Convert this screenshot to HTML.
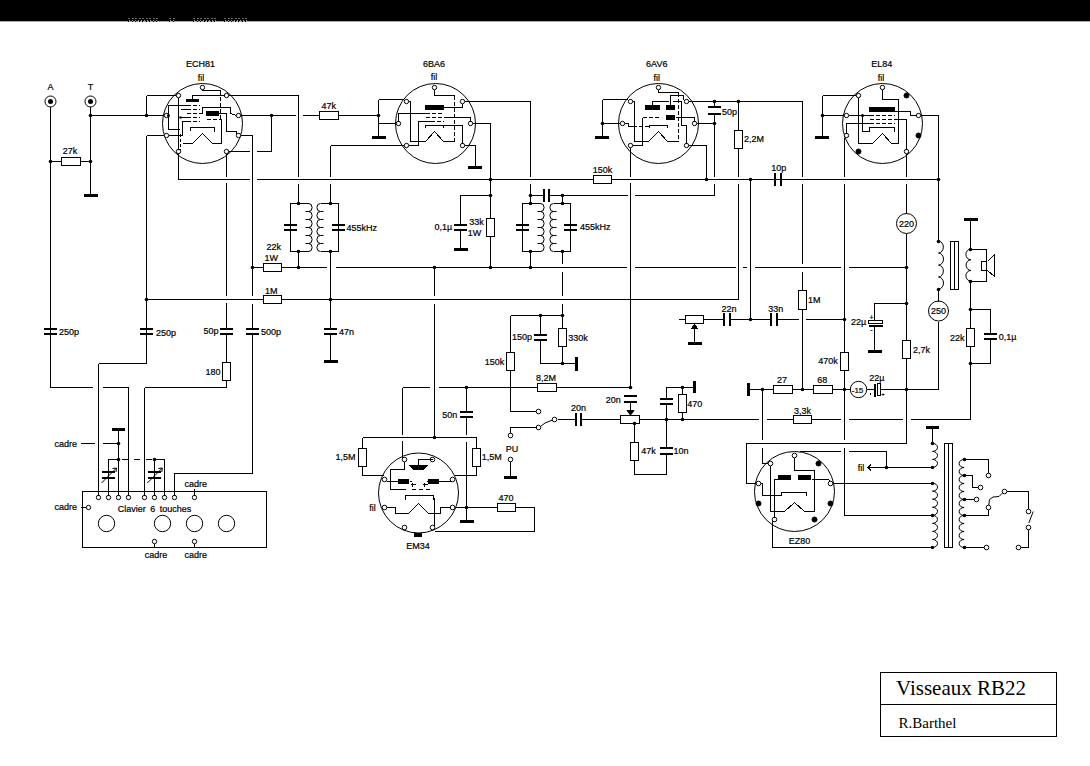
<!DOCTYPE html>
<html><head><meta charset="utf-8"><style>
html,body{margin:0;padding:0;background:#fff;}
body{width:1090px;height:766px;overflow:hidden;position:relative;}
svg{position:absolute;left:0;top:0;}
text{font-family:"Liberation Sans",sans-serif;fill:#000;stroke:#000;stroke-width:0.2px;word-spacing:2px;}
.serif{font-family:"Liberation Serif",serif;stroke:none;word-spacing:0;}
</style></head><body>
<svg width="1090" height="766" viewBox="0 0 1090 766">
<g stroke="#000" stroke-width="1" fill="none" shape-rendering="crispEdges">
<rect x="0" y="0" width="1090" height="21" fill="#000" stroke="none"/>
<rect x="0" y="21" width="1090" height="1" fill="#aaa" stroke="none"/>
<text x="50.5" y="90.4" text-anchor="middle" font-size="9">A</text>
<text x="90.5" y="90.4" text-anchor="middle" font-size="9">T</text>
<circle cx="50.5" cy="101.5" r="5.5" fill="none" shape-rendering="auto"/>
<circle cx="50.5" cy="101.5" r="2.5" fill="#000" stroke="none" shape-rendering="auto"/>
<circle cx="90.5" cy="101.5" r="5.5" fill="none" shape-rendering="auto"/>
<circle cx="90.5" cy="101.5" r="2.5" fill="#000" stroke="none" shape-rendering="auto"/>
<line x1="50.5" y1="106.5" x2="50.5" y2="387.5" stroke-width="1"/>
<line x1="50.5" y1="387.5" x2="92.5" y2="387.5" stroke-width="1"/>
<line x1="102.5" y1="387.5" x2="128.5" y2="387.5" stroke-width="1"/>
<line x1="128.5" y1="387.5" x2="128.5" y2="497.5" stroke-width="1"/>
<line x1="50.5" y1="161.5" x2="61.5" y2="161.5" stroke-width="1"/>
<rect x="61.5" y="157.5" width="19" height="8" fill="#fff"/>
<line x1="80.5" y1="161.5" x2="90.5" y2="161.5" stroke-width="1"/>
<text x="70" y="154.4" text-anchor="middle" font-size="9">27k</text>
<circle cx="50.5" cy="161.5" r="1.8" fill="#000" stroke="none" shape-rendering="auto"/>
<circle cx="90.5" cy="161.5" r="1.8" fill="#000" stroke="none" shape-rendering="auto"/>
<line x1="90.5" y1="106.5" x2="90.5" y2="195.5" stroke-width="1"/>
<rect x="84" y="194" width="14" height="3" fill="#000" stroke="none"/>
<circle cx="90.5" cy="115.5" r="1.8" fill="#000" stroke="none" shape-rendering="auto"/>
<line x1="90.5" y1="115.5" x2="166.5" y2="115.5" stroke-width="1"/>
<circle cx="146.5" cy="115.5" r="1.8" fill="#000" stroke="none" shape-rendering="auto"/>
<line x1="146.5" y1="95.5" x2="146.5" y2="115.5" stroke-width="1"/>
<line x1="146.5" y1="95.5" x2="178.5" y2="95.5" stroke-width="1"/>
<line x1="146.5" y1="135.5" x2="166.5" y2="135.5" stroke-width="1"/>
<line x1="146.5" y1="135.5" x2="146.5" y2="363.5" stroke-width="1"/>
<circle cx="146.5" cy="299.5" r="1.8" fill="#000" stroke="none" shape-rendering="auto"/>
<line x1="44" y1="329" x2="57" y2="329" stroke-width="2"/>
<line x1="44" y1="334" x2="57" y2="334" stroke-width="2"/>
<text x="59" y="334.9" text-anchor="start" font-size="9">250p</text>
<line x1="140" y1="329" x2="153" y2="329" stroke-width="2"/>
<line x1="140" y1="334" x2="153" y2="334" stroke-width="2"/>
<text x="156" y="336.09999999999997" text-anchor="start" font-size="9">250p</text>
<line x1="146.5" y1="363.5" x2="98.5" y2="363.5" stroke-width="1"/>
<line x1="98.5" y1="363.5" x2="98.5" y2="497.5" stroke-width="1"/>
<text x="200.5" y="67.4" text-anchor="middle" font-size="9">ECH81</text>
<text x="201" y="81.4" text-anchor="middle" font-size="9">fil</text>
<circle cx="202.5" cy="123.5" r="40" fill="none" shape-rendering="auto"/>
<line x1="238.5" y1="115.5" x2="295.5" y2="115.5" stroke-width="1"/>
<line x1="302.5" y1="115.5" x2="319.5" y2="115.5" stroke-width="1"/>
<circle cx="271.5" cy="115.5" r="1.8" fill="#000" stroke="none" shape-rendering="auto"/>
<line x1="271.5" y1="115.5" x2="271.5" y2="151.5" stroke-width="1"/>
<line x1="226.5" y1="151.5" x2="249.5" y2="151.5" stroke-width="1"/>
<line x1="256.5" y1="151.5" x2="271.5" y2="151.5" stroke-width="1"/>
<line x1="238.5" y1="135.5" x2="252.5" y2="135.5" stroke-width="1"/>
<line x1="252.5" y1="135.5" x2="252.5" y2="295.5" stroke-width="1"/>
<line x1="252.5" y1="303.5" x2="252.5" y2="329.5" stroke-width="1"/>
<circle cx="252.5" cy="267.5" r="1.8" fill="#000" stroke="none" shape-rendering="auto"/>
<line x1="178.5" y1="151.5" x2="178.5" y2="179.5" stroke-width="1"/>
<line x1="178.5" y1="179.5" x2="249.5" y2="179.5" stroke-width="1"/>
<line x1="256.5" y1="179.5" x2="938.5" y2="179.5" stroke-width="1"/>
<line x1="226.5" y1="151.5" x2="226.5" y2="176.5" stroke-width="1"/>
<line x1="226.5" y1="182.5" x2="226.5" y2="295.5" stroke-width="1"/>
<line x1="226.5" y1="302.5" x2="226.5" y2="329.5" stroke-width="1"/>
<line x1="226.5" y1="95.5" x2="298.5" y2="95.5" stroke-width="1"/>
<line x1="298.5" y1="95.5" x2="298.5" y2="176.5" stroke-width="1"/>
<line x1="298.5" y1="183.5" x2="298.5" y2="203.5" stroke-width="1"/>
<line x1="220" y1="329" x2="233" y2="329" stroke-width="2"/>
<line x1="220" y1="334" x2="233" y2="334" stroke-width="2"/>
<text x="211" y="334.4" text-anchor="middle" font-size="9">50p</text>
<line x1="246" y1="329" x2="259" y2="329" stroke-width="2"/>
<line x1="246" y1="334" x2="259" y2="334" stroke-width="2"/>
<text x="271" y="334.9" text-anchor="middle" font-size="9">500p</text>
<line x1="226.5" y1="334.5" x2="226.5" y2="362.5" stroke-width="1"/>
<rect x="222.5" y="362.5" width="8" height="18" fill="#fff"/>
<line x1="226.5" y1="380.5" x2="226.5" y2="387.5" stroke-width="1"/>
<line x1="226.5" y1="387.5" x2="144.5" y2="387.5" stroke-width="1"/>
<line x1="144.5" y1="387.5" x2="144.5" y2="497.5" stroke-width="1"/>
<text x="213" y="375.09999999999997" text-anchor="middle" font-size="9">180</text>
<line x1="252.5" y1="334.5" x2="252.5" y2="473.5" stroke-width="1"/>
<line x1="252.5" y1="473.5" x2="174.5" y2="473.5" stroke-width="1"/>
<line x1="174.5" y1="473.5" x2="174.5" y2="497.5" stroke-width="1"/>
<line x1="146.5" y1="299.5" x2="263.5" y2="299.5" stroke-width="1"/>
<rect x="263.5" y="295.5" width="18" height="8" fill="#fff"/>
<text x="271.2" y="293.7" text-anchor="middle" font-size="9">1M</text>
<line x1="281.5" y1="299.5" x2="738.5" y2="299.5" stroke-width="1"/>
<line x1="252.5" y1="267.5" x2="263.5" y2="267.5" stroke-width="1"/>
<rect x="263.5" y="263.5" width="18" height="8" fill="#fff"/>
<text x="273.7" y="250.4" text-anchor="middle" font-size="9">22k</text>
<text x="271.2" y="261.4" text-anchor="middle" font-size="9">1W</text>
<line x1="281.5" y1="267.5" x2="326.5" y2="267.5" stroke-width="1"/>
<line x1="335.5" y1="267.5" x2="626.5" y2="267.5" stroke-width="1"/>
<line x1="634.5" y1="267.5" x2="735.5" y2="267.5" stroke-width="1"/>
<line x1="742.5" y1="267.5" x2="746.5" y2="267.5" stroke-width="1"/>
<line x1="754.5" y1="267.5" x2="840.5" y2="267.5" stroke-width="1"/>
<line x1="848.5" y1="267.5" x2="906.5" y2="267.5" stroke-width="1"/>
<circle cx="298.5" cy="267.5" r="1.8" fill="#000" stroke="none" shape-rendering="auto"/>
<circle cx="434.5" cy="267.5" r="1.8" fill="#000" stroke="none" shape-rendering="auto"/>
<circle cx="490.5" cy="267.5" r="1.8" fill="#000" stroke="none" shape-rendering="auto"/>
<circle cx="530.5" cy="267.5" r="1.8" fill="#000" stroke="none" shape-rendering="auto"/>
<circle cx="906.5" cy="267.5" r="1.8" fill="#000" stroke="none" shape-rendering="auto"/>
<line x1="330.5" y1="145.5" x2="406.5" y2="145.5" stroke-width="1"/>
<line x1="330.5" y1="145.5" x2="330.5" y2="176.5" stroke-width="1"/>
<line x1="330.5" y1="183.5" x2="330.5" y2="203.5" stroke-width="1"/>
<circle cx="298.5" cy="203.5" r="1.8" fill="#000" stroke="none" shape-rendering="auto"/>
<circle cx="330.5" cy="203.5" r="1.8" fill="#000" stroke="none" shape-rendering="auto"/>
<circle cx="298.5" cy="251.5" r="1.8" fill="#000" stroke="none" shape-rendering="auto"/>
<circle cx="330.5" cy="251.5" r="1.8" fill="#000" stroke="none" shape-rendering="auto"/>
<polyline points="308.5,203.5 290.5,203.5 290.5,251.5 308.5,251.5"/>
<polyline points="320.5,203.5 338.5,203.5 338.5,251.5 320.5,251.5"/>
<line x1="284" y1="225" x2="297" y2="225" stroke-width="2"/>
<line x1="284" y1="230" x2="297" y2="230" stroke-width="2"/>
<line x1="332" y1="225" x2="345" y2="225" stroke-width="2"/>
<line x1="332" y1="230" x2="345" y2="230" stroke-width="2"/>
<path d="M308.5,203.5 A3.6,4.0 0 0 1 308.5,211.50 A3.6,4.0 0 0 1 308.5,219.50 A3.6,4.0 0 0 1 308.5,227.50 A3.6,4.0 0 0 1 308.5,235.50 A3.6,4.0 0 0 1 308.5,243.50 A3.6,4.0 0 0 1 308.5,251.50 M308.5,211.50 h-3 M308.5,219.50 h-3 M308.5,227.50 h-3 M308.5,235.50 h-3 M308.5,243.50 h-3" fill="none" shape-rendering="auto"/>
<path d="M320.5,203.5 A3.6,4.0 0 0 0 320.5,211.50 A3.6,4.0 0 0 0 320.5,219.50 A3.6,4.0 0 0 0 320.5,227.50 A3.6,4.0 0 0 0 320.5,235.50 A3.6,4.0 0 0 0 320.5,243.50 A3.6,4.0 0 0 0 320.5,251.50 M320.5,211.50 h3 M320.5,219.50 h3 M320.5,227.50 h3 M320.5,235.50 h3 M320.5,243.50 h3" fill="none" shape-rendering="auto"/>
<text x="346.5" y="230.8" text-anchor="start" font-size="9">455kHz</text>
<line x1="298.5" y1="251.5" x2="298.5" y2="267.5" stroke-width="1"/>
<line x1="330.5" y1="251.5" x2="330.5" y2="329.5" stroke-width="1"/>
<circle cx="330.5" cy="299.5" r="1.8" fill="#000" stroke="none" shape-rendering="auto"/>
<line x1="324" y1="329" x2="337" y2="329" stroke-width="2"/>
<line x1="324" y1="334" x2="337" y2="334" stroke-width="2"/>
<line x1="330.5" y1="334.5" x2="330.5" y2="361.5" stroke-width="1"/>
<rect x="324" y="360" width="14" height="3" fill="#000" stroke="none"/>
<text x="339" y="334.9" text-anchor="start" font-size="9">47n</text>
<text x="434" y="67.10000000000001" text-anchor="middle" font-size="9">6BA6</text>
<text x="434" y="80.4" text-anchor="middle" font-size="9">fil</text>
<circle cx="435.5" cy="123.5" r="40" fill="none" shape-rendering="auto"/>
<rect x="319.5" y="111.5" width="19" height="8" fill="#fff"/>
<text x="328.7" y="108.9" text-anchor="middle" font-size="9">47k</text>
<line x1="338.5" y1="115.5" x2="378.5" y2="115.5" stroke-width="1"/>
<circle cx="378.5" cy="115.5" r="1.8" fill="#000" stroke="none" shape-rendering="auto"/>
<line x1="378.5" y1="99.5" x2="378.5" y2="137.5" stroke-width="1"/>
<rect x="372" y="136" width="14" height="3" fill="#000" stroke="none"/>
<line x1="378.5" y1="99.5" x2="403.5" y2="99.5" stroke-width="1"/>
<line x1="378.5" y1="123.5" x2="396.5" y2="123.5" stroke-width="1"/>
<line x1="464.5" y1="101.5" x2="530.5" y2="101.5" stroke-width="1"/>
<line x1="530.5" y1="101.5" x2="530.5" y2="176.5" stroke-width="1"/>
<line x1="530.5" y1="183.5" x2="530.5" y2="203.5" stroke-width="1"/>
<line x1="472.5" y1="123.5" x2="490.5" y2="123.5" stroke-width="1"/>
<line x1="490.5" y1="123.5" x2="490.5" y2="218.5" stroke-width="1"/>
<circle cx="490.5" cy="179.5" r="1.8" fill="#000" stroke="none" shape-rendering="auto"/>
<circle cx="490.5" cy="195.5" r="1.8" fill="#000" stroke="none" shape-rendering="auto"/>
<rect x="486.5" y="218.5" width="8" height="18" fill="#fff"/>
<line x1="490.5" y1="236.5" x2="490.5" y2="267.5" stroke-width="1"/>
<polyline points="462.5,145.5 475.5,145.5 475.5,167.5"/>
<rect x="468" y="166" width="14" height="3" fill="#000" stroke="none"/>
<polyline points="490.5,195.5 460.5,195.5 460.5,225.5"/>
<line x1="454" y1="225" x2="467" y2="225" stroke-width="2"/>
<line x1="454" y1="230" x2="467" y2="230" stroke-width="2"/>
<line x1="460.5" y1="230.5" x2="460.5" y2="249.5" stroke-width="1"/>
<rect x="454" y="248" width="14" height="3" fill="#000" stroke="none"/>
<text x="443.4" y="229.6" text-anchor="middle" font-size="9">0,1&#181;</text>
<text x="476.6" y="224.6" text-anchor="middle" font-size="9">33k</text>
<text x="474.6" y="235.8" text-anchor="middle" font-size="9">1W</text>
<circle cx="530.5" cy="195.5" r="1.8" fill="#000" stroke="none" shape-rendering="auto"/>
<circle cx="530.5" cy="203.5" r="1.8" fill="#000" stroke="none" shape-rendering="auto"/>
<circle cx="530.5" cy="251.5" r="1.8" fill="#000" stroke="none" shape-rendering="auto"/>
<circle cx="562.5" cy="195.5" r="1.8" fill="#000" stroke="none" shape-rendering="auto"/>
<circle cx="562.5" cy="203.5" r="1.8" fill="#000" stroke="none" shape-rendering="auto"/>
<circle cx="562.5" cy="251.5" r="1.8" fill="#000" stroke="none" shape-rendering="auto"/>
<line x1="530.5" y1="195.5" x2="544.5" y2="195.5" stroke-width="1"/>
<line x1="544" y1="189" x2="544" y2="202" stroke-width="2"/>
<line x1="549" y1="189" x2="549" y2="202" stroke-width="2"/>
<line x1="549.5" y1="195.5" x2="627.5" y2="195.5" stroke-width="1"/>
<line x1="634.5" y1="195.5" x2="714.5" y2="195.5" stroke-width="1"/>
<polyline points="540.5,203.5 522.5,203.5 522.5,251.5 540.5,251.5"/>
<polyline points="553.5,203.5 570.5,203.5 570.5,251.5 553.5,251.5"/>
<path d="M540.5,203.5 A3.6,4.0 0 0 1 540.5,211.50 A3.6,4.0 0 0 1 540.5,219.50 A3.6,4.0 0 0 1 540.5,227.50 A3.6,4.0 0 0 1 540.5,235.50 A3.6,4.0 0 0 1 540.5,243.50 A3.6,4.0 0 0 1 540.5,251.50 M540.5,211.50 h-3 M540.5,219.50 h-3 M540.5,227.50 h-3 M540.5,235.50 h-3 M540.5,243.50 h-3" fill="none" shape-rendering="auto"/>
<path d="M553.5,203.5 A3.6,4.0 0 0 0 553.5,211.50 A3.6,4.0 0 0 0 553.5,219.50 A3.6,4.0 0 0 0 553.5,227.50 A3.6,4.0 0 0 0 553.5,235.50 A3.6,4.0 0 0 0 553.5,243.50 A3.6,4.0 0 0 0 553.5,251.50 M553.5,211.50 h3 M553.5,219.50 h3 M553.5,227.50 h3 M553.5,235.50 h3 M553.5,243.50 h3" fill="none" shape-rendering="auto"/>
<line x1="516" y1="225" x2="529" y2="225" stroke-width="2"/>
<line x1="516" y1="230" x2="529" y2="230" stroke-width="2"/>
<line x1="564" y1="225" x2="577" y2="225" stroke-width="2"/>
<line x1="564" y1="230" x2="577" y2="230" stroke-width="2"/>
<text x="580" y="230.4" text-anchor="start" font-size="9">455kHz</text>
<line x1="530.5" y1="251.5" x2="530.5" y2="267.5" stroke-width="1"/>
<line x1="562.5" y1="195.5" x2="562.5" y2="203.5" stroke-width="1"/>
<line x1="562.5" y1="251.5" x2="562.5" y2="263.5" stroke-width="1"/>
<line x1="562.5" y1="271.5" x2="562.5" y2="295.5" stroke-width="1"/>
<line x1="562.5" y1="303.5" x2="562.5" y2="328.5" stroke-width="1"/>
<rect x="558.5" y="328.5" width="8" height="18" fill="#fff"/>
<line x1="562.5" y1="346.5" x2="562.5" y2="363.5" stroke-width="1"/>
<circle cx="562.5" cy="315.5" r="1.8" fill="#000" stroke="none" shape-rendering="auto"/>
<circle cx="562.5" cy="363.5" r="1.8" fill="#000" stroke="none" shape-rendering="auto"/>
<line x1="562.5" y1="363.5" x2="576.5" y2="363.5" stroke-width="1"/>
<rect x="575" y="357" width="3" height="14" fill="#000" stroke="none"/>
<line x1="510.5" y1="315.5" x2="562.5" y2="315.5" stroke-width="1"/>
<circle cx="540.5" cy="315.5" r="1.8" fill="#000" stroke="none" shape-rendering="auto"/>
<line x1="540.5" y1="315.5" x2="540.5" y2="334.5" stroke-width="1"/>
<line x1="534" y1="335" x2="547" y2="335" stroke-width="2"/>
<line x1="534" y1="340" x2="547" y2="340" stroke-width="2"/>
<line x1="540.5" y1="340.5" x2="540.5" y2="363.5" stroke-width="1"/>
<line x1="540.5" y1="363.5" x2="562.5" y2="363.5" stroke-width="1"/>
<line x1="510.5" y1="315.5" x2="510.5" y2="352.5" stroke-width="1"/>
<rect x="506.5" y="352.5" width="8" height="18" fill="#fff"/>
<line x1="510.5" y1="370.5" x2="510.5" y2="411.5" stroke-width="1"/>
<line x1="510.5" y1="411.5" x2="536.5" y2="411.5" stroke-width="1"/>
<text x="522" y="340.09999999999997" text-anchor="middle" font-size="9">150p</text>
<text x="577.9" y="341.09999999999997" text-anchor="middle" font-size="9">330k</text>
<text x="494.6" y="365.09999999999997" text-anchor="middle" font-size="9">150k</text>
<text x="656.8" y="67.10000000000001" text-anchor="middle" font-size="9">6AV6</text>
<text x="656.8" y="80.80000000000001" text-anchor="middle" font-size="9">fil</text>
<circle cx="658.5" cy="123.5" r="40" fill="none" shape-rendering="auto"/>
<line x1="602.5" y1="99.5" x2="627.5" y2="99.5" stroke-width="1"/>
<line x1="602.5" y1="99.5" x2="602.5" y2="137.5" stroke-width="1"/>
<rect x="595" y="136" width="14" height="3" fill="#000" stroke="none"/>
<circle cx="602.5" cy="123.5" r="1.8" fill="#000" stroke="none" shape-rendering="auto"/>
<line x1="602.5" y1="123.5" x2="620.5" y2="123.5" stroke-width="1"/>
<line x1="688.5" y1="101.5" x2="802.5" y2="101.5" stroke-width="1"/>
<circle cx="714.5" cy="101.5" r="1.8" fill="#000" stroke="none" shape-rendering="auto"/>
<circle cx="738.5" cy="101.5" r="1.8" fill="#000" stroke="none" shape-rendering="auto"/>
<line x1="714.5" y1="101.5" x2="714.5" y2="107.5" stroke-width="1"/>
<line x1="708" y1="107" x2="721" y2="107" stroke-width="2"/>
<line x1="708" y1="114" x2="721" y2="114" stroke-width="2"/>
<line x1="714.5" y1="114.5" x2="714.5" y2="176.5" stroke-width="1"/>
<line x1="714.5" y1="183.5" x2="714.5" y2="195.5" stroke-width="1"/>
<circle cx="714.5" cy="123.5" r="1.8" fill="#000" stroke="none" shape-rendering="auto"/>
<line x1="696.5" y1="123.5" x2="714.5" y2="123.5" stroke-width="1"/>
<text x="729.6" y="115.0" text-anchor="middle" font-size="9">50p</text>
<line x1="738.5" y1="101.5" x2="738.5" y2="130.5" stroke-width="1"/>
<rect x="734.5" y="130.5" width="8" height="18" fill="#fff"/>
<line x1="738.5" y1="148.5" x2="738.5" y2="176.5" stroke-width="1"/>
<line x1="738.5" y1="183.5" x2="738.5" y2="299.5" stroke-width="1"/>
<text x="744" y="142.0" text-anchor="start" font-size="9">2,2M</text>
<polyline points="686.5,145.5 706.5,145.5 706.5,179.5"/>
<circle cx="706.5" cy="179.5" r="1.8" fill="#000" stroke="none" shape-rendering="auto"/>
<line x1="630.5" y1="147.5" x2="630.5" y2="176.5" stroke-width="1"/>
<line x1="630.5" y1="182.5" x2="630.5" y2="387.5" stroke-width="1"/>
<rect x="593.5" y="175.5" width="18" height="8" fill="#fff"/>
<text x="602.4" y="172.70000000000002" text-anchor="middle" font-size="9">150k</text>
<circle cx="750.5" cy="179.5" r="1.8" fill="#000" stroke="none" shape-rendering="auto"/>
<line x1="750.5" y1="179.5" x2="750.5" y2="319.5" stroke-width="1"/>
<circle cx="750.5" cy="319.5" r="1.8" fill="#000" stroke="none" shape-rendering="auto"/>
<line x1="775" y1="173" x2="775" y2="186" stroke-width="2"/>
<line x1="781" y1="173" x2="781" y2="186" stroke-width="2"/>
<text x="778.8" y="171.20000000000002" text-anchor="middle" font-size="9">10p</text>
<line x1="802.5" y1="101.5" x2="802.5" y2="176.5" stroke-width="1"/>
<line x1="802.5" y1="183.5" x2="802.5" y2="263.5" stroke-width="1"/>
<line x1="802.5" y1="271.5" x2="802.5" y2="290.5" stroke-width="1"/>
<rect x="798.5" y="290.5" width="8" height="19" fill="#fff"/>
<line x1="802.5" y1="309.5" x2="802.5" y2="389.5" stroke-width="1"/>
<text x="808" y="303.2" text-anchor="start" font-size="9">1M</text>
<circle cx="938.5" cy="179.5" r="1.8" fill="#000" stroke="none" shape-rendering="auto"/>
<line x1="678.5" y1="319.5" x2="685.5" y2="319.5" stroke-width="1"/>
<rect x="685.5" y="315.5" width="18" height="8" fill="#fff"/>
<line x1="703.5" y1="319.5" x2="724.5" y2="319.5" stroke-width="1"/>
<line x1="724" y1="313" x2="724" y2="326" stroke-width="2"/>
<line x1="730" y1="313" x2="730" y2="326" stroke-width="2"/>
<line x1="730.5" y1="319.5" x2="771.5" y2="319.5" stroke-width="1"/>
<line x1="771" y1="313" x2="771" y2="326" stroke-width="2"/>
<line x1="777" y1="313" x2="777" y2="326" stroke-width="2"/>
<line x1="777.5" y1="319.5" x2="798.5" y2="319.5" stroke-width="1"/>
<line x1="805.5" y1="319.5" x2="844.5" y2="319.5" stroke-width="1"/>
<circle cx="844.5" cy="319.5" r="1.8" fill="#000" stroke="none" shape-rendering="auto"/>
<text x="729.1" y="312.4" text-anchor="middle" font-size="9">22n</text>
<text x="775.8" y="312.4" text-anchor="middle" font-size="9">33n</text>
<line x1="694.5" y1="324.5" x2="694.5" y2="343.5" stroke-width="1"/>
<rect x="688" y="342" width="14" height="3" fill="#000" stroke="none"/>
<path d="M691.5,328.5 L694.5,324 L697.5,328.5 Z" fill="#000"/>
<text x="881.8" y="67.10000000000001" text-anchor="middle" font-size="9">EL84</text>
<text x="881" y="80.80000000000001" text-anchor="middle" font-size="9">fil</text>
<circle cx="882.5" cy="123.5" r="40" fill="none" shape-rendering="auto"/>
<line x1="822.5" y1="95.5" x2="856.5" y2="95.5" stroke-width="1"/>
<line x1="822.5" y1="95.5" x2="822.5" y2="137.5" stroke-width="1"/>
<rect x="815" y="136" width="14" height="3" fill="#000" stroke="none"/>
<circle cx="822.5" cy="115.5" r="1.8" fill="#000" stroke="none" shape-rendering="auto"/>
<line x1="822.5" y1="115.5" x2="844.5" y2="115.5" stroke-width="1"/>
<line x1="920.5" y1="115.5" x2="938.5" y2="115.5" stroke-width="1"/>
<line x1="938.5" y1="115.5" x2="938.5" y2="241.5" stroke-width="1"/>
<line x1="844.5" y1="137.5" x2="844.5" y2="176.5" stroke-width="1"/>
<line x1="844.5" y1="183.5" x2="844.5" y2="352.5" stroke-width="1"/>
<line x1="906.5" y1="153.5" x2="906.5" y2="176.5" stroke-width="1"/>
<line x1="906.5" y1="183.5" x2="906.5" y2="213.5" stroke-width="1"/>
<circle cx="906.5" cy="223.5" r="10" fill="none" shape-rendering="auto"/>
<text x="906.5" y="226.8" text-anchor="middle" font-size="9">220</text>
<line x1="906.5" y1="233.5" x2="906.5" y2="340.5" stroke-width="1"/>
<circle cx="906.5" cy="303.5" r="1.8" fill="#000" stroke="none" shape-rendering="auto"/>
<rect x="902.5" y="340.5" width="8" height="18" fill="#fff"/>
<line x1="906.5" y1="358.5" x2="906.5" y2="443.5" stroke-width="1"/>
<text x="913" y="353.09999999999997" text-anchor="start" font-size="9">2,7k</text>
<polyline points="906.5,303.5 874.5,303.5 874.5,321.5"/>
<rect x="868" y="320" width="14" height="3" fill="#fff"/>
<line x1="868.5" y1="325.5" x2="882.5" y2="325.5" stroke-width="2"/>
<line x1="874.5" y1="326.5" x2="874.5" y2="351.5" stroke-width="1"/>
<rect x="868" y="350" width="14" height="3" fill="#000" stroke="none"/>
<text x="858.6" y="325.2" text-anchor="middle" font-size="9">22&#181;</text>
<text x="871.5" y="320.4" text-anchor="middle" font-size="7">+</text>
<text x="871.5" y="332.4" text-anchor="middle" font-size="7">-</text>
<circle cx="938.5" cy="241.5" r="1.8" fill="#000" stroke="none" shape-rendering="auto"/>
<path d="M938.5,241.1 A5,5.987500000000001 0 0 1 938.5,253.07 A5,5.987500000000001 0 0 1 938.5,265.05 A5,5.987500000000001 0 0 1 938.5,277.02 A5,5.987500000000001 0 0 1 938.5,289.00" fill="none" shape-rendering="auto"/>
<circle cx="938.5" cy="289.5" r="1.8" fill="#000" stroke="none" shape-rendering="auto"/>
<line x1="938.5" y1="289.5" x2="938.5" y2="301.5" stroke-width="1"/>
<circle cx="938.5" cy="311" r="10" fill="none" shape-rendering="auto"/>
<text x="938.5" y="314.4" text-anchor="middle" font-size="9">250</text>
<line x1="938.5" y1="321.5" x2="938.5" y2="389.5" stroke-width="1"/>
<rect x="950.5" y="241.5" width="8" height="48"/>
<line x1="954.5" y1="241.5" x2="954.5" y2="289.5" stroke-width="1"/>
<rect x="964" y="218" width="14" height="3" fill="#000" stroke="none"/>
<line x1="970.5" y1="219.5" x2="970.5" y2="249.5" stroke-width="1"/>
<circle cx="970.5" cy="249.5" r="1.8" fill="#000" stroke="none" shape-rendering="auto"/>
<path d="M970.9,249.1 A5,5.333333333333338 0 0 0 970.9,259.77 A5,5.333333333333338 0 0 0 970.9,270.43 A5,5.333333333333338 0 0 0 970.9,281.10" fill="none" shape-rendering="auto"/>
<circle cx="970.5" cy="281.5" r="1.8" fill="#000" stroke="none" shape-rendering="auto"/>
<polyline points="970.5,249.5 986.5,249.5 986.5,281.5 970.5,281.5"/>
<rect x="981.5" y="261.5" width="5" height="9" fill="#fff"/>
<polyline points="987.5,261.5 994.5,254.5 994.5,276.5 987.5,270.5"/>
<line x1="970.5" y1="281.5" x2="970.5" y2="328.5" stroke-width="1"/>
<circle cx="970.5" cy="309.5" r="1.8" fill="#000" stroke="none" shape-rendering="auto"/>
<rect x="966.5" y="328.5" width="8" height="18" fill="#fff"/>
<line x1="970.5" y1="346.5" x2="970.5" y2="419.5" stroke-width="1"/>
<circle cx="970.5" cy="363.5" r="1.8" fill="#000" stroke="none" shape-rendering="auto"/>
<polyline points="970.5,309.5 990.5,309.5 990.5,334.5"/>
<line x1="984" y1="334" x2="997" y2="334" stroke-width="2"/>
<line x1="984" y1="339" x2="997" y2="339" stroke-width="2"/>
<polyline points="990.5,339.5 990.5,363.5 970.5,363.5"/>
<text x="957.2" y="340.59999999999997" text-anchor="middle" font-size="9">22k</text>
<text x="1007.6" y="340.09999999999997" text-anchor="middle" font-size="9">0,1&#181;</text>
<rect x="747" y="383" width="3" height="13" fill="#000" stroke="none"/>
<line x1="748.5" y1="389.5" x2="773.5" y2="389.5" stroke-width="1"/>
<rect x="773.5" y="385.5" width="19" height="8" fill="#fff"/>
<line x1="792.5" y1="389.5" x2="813.5" y2="389.5" stroke-width="1"/>
<circle cx="802.5" cy="389.5" r="1.8" fill="#000" stroke="none" shape-rendering="auto"/>
<circle cx="762.5" cy="389.5" r="1.8" fill="#000" stroke="none" shape-rendering="auto"/>
<rect x="813.5" y="385.5" width="19" height="8" fill="#fff"/>
<line x1="832.5" y1="389.5" x2="850.5" y2="389.5" stroke-width="1"/>
<circle cx="844.5" cy="389.5" r="1.8" fill="#000" stroke="none" shape-rendering="auto"/>
<circle cx="858.5" cy="389.5" r="8.2" fill="none" shape-rendering="auto"/>
<text x="857.5" y="392.59999999999997" text-anchor="middle" font-size="8">-15</text>
<line x1="866.5" y1="389.5" x2="873.5" y2="389.5" stroke-width="1"/>
<line x1="874.5" y1="383.5" x2="874.5" y2="396.5" stroke-width="2"/>
<rect x="877.5" y="383.5" width="3" height="12" fill="#fff"/>
<line x1="870.5" y1="392.5" x2="870.5" y2="394.5" stroke-width="1"/>
<text x="883" y="396.4" text-anchor="middle" font-size="6">+</text>
<line x1="880.5" y1="389.5" x2="938.5" y2="389.5" stroke-width="1"/>
<circle cx="906.5" cy="389.5" r="1.8" fill="#000" stroke="none" shape-rendering="auto"/>
<line x1="938.5" y1="321.5" x2="938.5" y2="389.5" stroke-width="1"/>
<text x="782" y="382.79999999999995" text-anchor="middle" font-size="9">27</text>
<text x="822.3" y="382.79999999999995" text-anchor="middle" font-size="9">68</text>
<text x="876.8" y="381.29999999999995" text-anchor="middle" font-size="9">22&#181;</text>
<text x="828" y="364.0" text-anchor="middle" font-size="9">470k</text>
<rect x="840.5" y="352.5" width="8" height="18" fill="#fff"/>
<rect x="82.5" y="491.5" width="184" height="56" fill="none"/>
<circle cx="98.5" cy="497.5" r="2.2" fill="#fff" shape-rendering="auto"/>
<circle cx="108.5" cy="497.5" r="2.2" fill="#fff" shape-rendering="auto"/>
<circle cx="118.5" cy="497.5" r="2.2" fill="#fff" shape-rendering="auto"/>
<circle cx="128.5" cy="497.5" r="2.2" fill="#fff" shape-rendering="auto"/>
<circle cx="144.5" cy="497.5" r="2.2" fill="#fff" shape-rendering="auto"/>
<circle cx="154.5" cy="497.5" r="2.2" fill="#fff" shape-rendering="auto"/>
<circle cx="164.5" cy="497.5" r="2.2" fill="#fff" shape-rendering="auto"/>
<circle cx="174.5" cy="497.5" r="2.2" fill="#fff" shape-rendering="auto"/>
<circle cx="194.5" cy="497.5" r="2.2" fill="#fff" shape-rendering="auto"/>
<text x="195.7" y="486.59999999999997" text-anchor="middle" font-size="9">cadre</text>
<line x1="194.5" y1="488.5" x2="194.5" y2="495.5" stroke-width="1"/>
<text x="65.8" y="510.4" text-anchor="middle" font-size="9">cadre</text>
<line x1="80.5" y1="507.5" x2="86.5" y2="507.5" stroke-width="1"/>
<circle cx="88.5" cy="507.5" r="2.2" fill="#fff" shape-rendering="auto"/>
<text x="154.5" y="512.1" text-anchor="middle" font-size="9">Clavier 6 touches</text>
<circle cx="106.5" cy="523.5" r="8.2" fill="none" shape-rendering="auto"/>
<circle cx="162.5" cy="523.5" r="8.2" fill="none" shape-rendering="auto"/>
<circle cx="194.5" cy="523.5" r="8.2" fill="none" shape-rendering="auto"/>
<circle cx="226.5" cy="523.5" r="8.2" fill="none" shape-rendering="auto"/>
<circle cx="154.5" cy="541.5" r="2.2" fill="#fff" shape-rendering="auto"/>
<line x1="154.5" y1="543.5" x2="154.5" y2="547.5" stroke-width="1"/>
<circle cx="194.5" cy="541.5" r="2.2" fill="#fff" shape-rendering="auto"/>
<line x1="194.5" y1="543.5" x2="194.5" y2="547.5" stroke-width="1"/>
<text x="156" y="558.1" text-anchor="middle" font-size="9">cadre</text>
<text x="195.7" y="558.1" text-anchor="middle" font-size="9">cadre</text>
<rect x="112" y="428" width="13" height="3" fill="#000" stroke="none"/>
<text x="65.8" y="446.5" text-anchor="middle" font-size="9">cadre</text>
<line x1="80.5" y1="443.5" x2="94.5" y2="443.5" stroke-width="1"/>
<line x1="102.5" y1="443.5" x2="118.5" y2="443.5" stroke-width="1"/>
<circle cx="118.5" cy="443.5" r="1.8" fill="#000" stroke="none" shape-rendering="auto"/>
<line x1="118.5" y1="429.5" x2="118.5" y2="495.5" stroke-width="1"/>
<circle cx="118.5" cy="459.5" r="1.8" fill="#000" stroke="none" shape-rendering="auto"/>
<polyline points="108.5,495.5 108.5,459.5 118.5,459.5"/>
<line x1="121.5" y1="459.5" x2="154.5" y2="459.5" stroke-dasharray="6 6"/>
<circle cx="154.5" cy="459.5" r="1.8" fill="#000" stroke="none" shape-rendering="auto"/>
<polyline points="154.5,459.5 164.5,459.5 164.5,495.5"/>
<line x1="154.5" y1="459.5" x2="154.5" y2="495.5" stroke-width="1"/>
<line x1="102" y1="472" x2="115" y2="472" stroke-width="2"/>
<line x1="102" y1="478" x2="115" y2="478" stroke-width="2"/>
<line x1="148" y1="472" x2="161" y2="472" stroke-width="2"/>
<line x1="148" y1="478" x2="161" y2="478" stroke-width="2"/>
<path d="M101.5,483 L116.5,468 M116.5,468 l-4,0.5 M116.5,468 l-0.5,4" fill="none" shape-rendering="auto"/>
<path d="M147.3,483 L162.3,468 M162.3,468 l-4,0.5 M162.3,468 l-0.5,4" fill="none" shape-rendering="auto"/>
<line x1="98.5" y1="363.5" x2="98.5" y2="495.5" stroke-width="1"/>
<line x1="128.5" y1="387.5" x2="128.5" y2="495.5" stroke-width="1"/>
<line x1="144.5" y1="387.5" x2="144.5" y2="495.5" stroke-width="1"/>
<polyline points="252.5,473.5 174.5,473.5 174.5,495.5"/>
<circle cx="418.5" cy="493" r="40" fill="none" shape-rendering="auto"/>
<circle cx="404.5" cy="459.5" r="2.3" fill="#fff" shape-rendering="auto"/>
<circle cx="432.5" cy="459.5" r="2.3" fill="#fff" shape-rendering="auto"/>
<circle cx="384.5" cy="479.5" r="2.3" fill="#fff" shape-rendering="auto"/>
<circle cx="452.5" cy="479.5" r="2.3" fill="#fff" shape-rendering="auto"/>
<circle cx="384.5" cy="507.5" r="2.3" fill="#fff" shape-rendering="auto"/>
<circle cx="452.5" cy="507.5" r="2.3" fill="#fff" shape-rendering="auto"/>
<circle cx="404.5" cy="527.5" r="2.3" fill="#fff" shape-rendering="auto"/>
<circle cx="432.5" cy="527.5" r="2.3" fill="#fff" shape-rendering="auto"/>
<rect x="414" y="533" width="8" height="4" fill="#000" stroke="none"/>
<text x="417.9" y="549.3" text-anchor="middle" font-size="9">EM34</text>
<text x="372.4" y="511.09999999999997" text-anchor="middle" font-size="9">fil</text>
<line x1="362.5" y1="437.5" x2="476.5" y2="437.5" stroke-width="1"/>
<circle cx="434.5" cy="437.5" r="1.8" fill="#000" stroke="none" shape-rendering="auto"/>
<line x1="434.5" y1="267.5" x2="434.5" y2="295.5" stroke-width="1"/>
<line x1="434.5" y1="303.5" x2="434.5" y2="437.5" stroke-width="1"/>
<rect x="358.5" y="448.5" width="8" height="18" fill="#fff"/>
<line x1="362.5" y1="437.5" x2="362.5" y2="448.5" stroke-width="1"/>
<polyline points="362.5,466.5 362.5,475.5 383.5,475.5"/>
<rect x="472.5" y="448.5" width="8" height="18" fill="#fff"/>
<line x1="476.5" y1="437.5" x2="476.5" y2="448.5" stroke-width="1"/>
<polyline points="476.5,466.5 476.5,475.5 454.5,475.5"/>
<text x="345.4" y="460.2" text-anchor="middle" font-size="9">1,5M</text>
<text x="491.7" y="460.2" text-anchor="middle" font-size="9">1,5M</text>
<line x1="402.5" y1="387.5" x2="402.5" y2="434.5" stroke-width="1"/>
<line x1="402.5" y1="440.5" x2="402.5" y2="457.5" stroke-width="1"/>
<line x1="402.5" y1="387.5" x2="429.5" y2="387.5" stroke-width="1"/>
<line x1="438.5" y1="387.5" x2="537.5" y2="387.5" stroke-width="1"/>
<circle cx="466.5" cy="387.5" r="1.8" fill="#000" stroke="none" shape-rendering="auto"/>
<rect x="537.5" y="383.5" width="19" height="8" fill="#fff"/>
<line x1="556.5" y1="387.5" x2="630.5" y2="387.5" stroke-width="1"/>
<circle cx="630.5" cy="387.5" r="1.8" fill="#000" stroke="none" shape-rendering="auto"/>
<text x="546" y="381.29999999999995" text-anchor="middle" font-size="9">8,2M</text>
<line x1="466.5" y1="387.5" x2="466.5" y2="412.5" stroke-width="1"/>
<line x1="460" y1="412" x2="473" y2="412" stroke-width="2"/>
<line x1="460" y1="417" x2="473" y2="417" stroke-width="2"/>
<line x1="466.5" y1="417.5" x2="466.5" y2="434.5" stroke-width="1"/>
<line x1="466.5" y1="441.5" x2="466.5" y2="521.5" stroke-width="1"/>
<circle cx="466.5" cy="507.5" r="1.8" fill="#000" stroke="none" shape-rendering="auto"/>
<rect x="460" y="520" width="14" height="3" fill="#000" stroke="none"/>
<text x="449.7" y="418.29999999999995" text-anchor="middle" font-size="9">50n</text>
<line x1="454.5" y1="507.5" x2="497.5" y2="507.5" stroke-width="1"/>
<rect x="497.5" y="503.5" width="18" height="8" fill="#fff"/>
<polyline points="515.5,507.5 534.5,507.5 534.5,531.5 434.5,531.5"/>
<text x="505.9" y="501.09999999999997" text-anchor="middle" font-size="9">470</text>
<polyline points="404.5,461.5 404.5,469.5 390.5,469.5 390.5,489.5 405.5,489.5"/>
<line x1="411.5" y1="489.5" x2="432.5" y2="489.5" stroke-dasharray="4 3"/>
<polyline points="432.5,459.5 418.5,459.5 418.5,464.5"/>
<path d="M408.5,464.5 L428.5,464.5 L424,469.5 L413,469.5 Z" fill="#000" stroke="none"/>
<line x1="386.5" y1="481.5" x2="398.5" y2="481.5" stroke-width="1"/>
<rect x="398" y="479" width="11" height="5" fill="#000" stroke="none"/>
<line x1="409.5" y1="481.5" x2="411.5" y2="481.5" stroke-width="1"/>
<line x1="412.5" y1="482.5" x2="412.5" y2="486.5" stroke-width="1"/>
<line x1="410.5" y1="484.5" x2="415.5" y2="484.5" stroke-width="1"/>
<line x1="428.5" y1="481.5" x2="426.5" y2="481.5" stroke-width="1"/>
<rect x="428" y="479" width="11" height="5" fill="#000" stroke="none"/>
<line x1="438.5" y1="481.5" x2="450.5" y2="481.5" stroke-width="1"/>
<line x1="424.5" y1="482.5" x2="424.5" y2="486.5" stroke-width="1"/>
<line x1="422.5" y1="484.5" x2="427.5" y2="484.5" stroke-width="1"/>
<polyline points="405.5,499.5 405.5,495.5 433.5,495.5 433.5,499.5"/>
<line x1="434.5" y1="497.5" x2="434.5" y2="525.5" stroke-width="1"/>
<polyline points="386.5,507.5 395.5,507.5 395.5,513.5 408.5,513.5 418.5,503.5 428.5,513.5 440.5,513.5 440.5,507.5 450.5,507.5"/>
<line x1="510.5" y1="369.5" x2="510.5" y2="383.5" stroke-width="1"/>
<line x1="510.5" y1="391.5" x2="510.5" y2="411.5" stroke-width="1"/>
<line x1="510.5" y1="411.5" x2="536.5" y2="411.5" stroke-width="1"/>
<circle cx="538.5" cy="411.5" r="2.3" fill="#fff" shape-rendering="auto"/>
<circle cx="554.5" cy="419.5" r="2.3" fill="#fff" shape-rendering="auto"/>
<circle cx="538.5" cy="427.5" r="2.3" fill="#fff" shape-rendering="auto"/>
<path d="M540.5,426.5 L545,423 L552.5,420" fill="none" shape-rendering="auto"/>
<polyline points="536.5,427.5 510.5,427.5 510.5,433.5"/>
<circle cx="510.5" cy="435.5" r="2.3" fill="#fff" shape-rendering="auto"/>
<text x="511.9" y="451.7" text-anchor="middle" font-size="9">PU</text>
<circle cx="510.5" cy="459.5" r="2.3" fill="#fff" shape-rendering="auto"/>
<line x1="510.5" y1="461.5" x2="510.5" y2="477.5" stroke-width="1"/>
<rect x="504" y="476" width="13" height="3" fill="#000" stroke="none"/>
<line x1="557.5" y1="419.5" x2="576.5" y2="419.5" stroke-width="1"/>
<line x1="576" y1="413" x2="576" y2="426" stroke-width="2"/>
<line x1="581" y1="413" x2="581" y2="426" stroke-width="2"/>
<line x1="581.5" y1="419.5" x2="620.5" y2="419.5" stroke-width="1"/>
<text x="578.6" y="411.2" text-anchor="middle" font-size="9">20n</text>
<rect x="620.5" y="415.5" width="19" height="8" fill="#fff"/>
<line x1="639.5" y1="419.5" x2="758.5" y2="419.5" stroke-width="1"/>
<line x1="766.5" y1="419.5" x2="793.5" y2="419.5" stroke-width="1"/>
<circle cx="666.5" cy="419.5" r="1.8" fill="#000" stroke="none" shape-rendering="auto"/>
<circle cx="682.5" cy="419.5" r="1.8" fill="#000" stroke="none" shape-rendering="auto"/>
<line x1="624" y1="396" x2="637" y2="396" stroke-width="2"/>
<line x1="624" y1="402" x2="637" y2="402" stroke-width="2"/>
<line x1="630.5" y1="402.5" x2="630.5" y2="411.5" stroke-width="1"/>
<path d="M627,410.5 L634,410.5 L630.5,415 Z" fill="#000" stroke="#000" shape-rendering="auto"/>
<text x="613.2" y="402.79999999999995" text-anchor="middle" font-size="9">20n</text>
<circle cx="634.5" cy="423.5" r="1.8" fill="#000" stroke="none" shape-rendering="auto"/>
<line x1="634.5" y1="423.5" x2="634.5" y2="442.5" stroke-width="1"/>
<rect x="630.5" y="442.5" width="8" height="18" fill="#fff"/>
<polyline points="634.5,460.5 634.5,474.5 666.5,474.5 666.5,454.5"/>
<line x1="660" y1="448" x2="673" y2="448" stroke-width="2"/>
<line x1="660" y1="454" x2="673" y2="454" stroke-width="2"/>
<line x1="666.5" y1="448.5" x2="666.5" y2="404.5" stroke-width="1"/>
<line x1="660" y1="399" x2="673" y2="399" stroke-width="2"/>
<line x1="660" y1="404" x2="673" y2="404" stroke-width="2"/>
<polyline points="666.5,399.5 666.5,387.5 694.5,387.5"/>
<circle cx="682.5" cy="387.5" r="1.8" fill="#000" stroke="none" shape-rendering="auto"/>
<rect x="693" y="381" width="3" height="12" fill="#000" stroke="none"/>
<rect x="678.5" y="394.5" width="8" height="18" fill="#fff"/>
<line x1="682.5" y1="387.5" x2="682.5" y2="394.5" stroke-width="1"/>
<line x1="682.5" y1="412.5" x2="682.5" y2="419.5" stroke-width="1"/>
<text x="648.4" y="454.09999999999997" text-anchor="middle" font-size="9">47k</text>
<text x="681" y="454.09999999999997" text-anchor="middle" font-size="9">10n</text>
<text x="694.7" y="407.2" text-anchor="middle" font-size="9">470</text>
<rect x="793.5" y="415.5" width="18" height="8" fill="#fff"/>
<line x1="811.5" y1="419.5" x2="840.5" y2="419.5" stroke-width="1"/>
<line x1="848.5" y1="419.5" x2="902.5" y2="419.5" stroke-width="1"/>
<line x1="910.5" y1="419.5" x2="970.5" y2="419.5" stroke-width="1"/>
<text x="802.5" y="413.9" text-anchor="middle" font-size="9">3,3k</text>
<polyline points="970.5,363.5 990.5,363.5"/>
<line x1="762.5" y1="389.5" x2="762.5" y2="439.5" stroke-width="1"/>
<line x1="762.5" y1="447.5" x2="762.5" y2="463.5" stroke-width="1"/>
<line x1="762.5" y1="463.5" x2="768.5" y2="463.5" stroke-width="1"/>
<polyline points="906.5,443.5 746.5,443.5 746.5,483.5 756.5,483.5"/>
<line x1="938.5" y1="389.5" x2="938.5" y2="389.5" stroke-width="1"/>
<polyline points="799.5,451.5 840.5,451.5"/>
<line x1="848.5" y1="451.5" x2="886.5" y2="451.5" stroke-width="1"/>
<line x1="886.5" y1="451.5" x2="886.5" y2="467.5" stroke-width="1"/>
<circle cx="886.5" cy="467.5" r="1.8" fill="#000" stroke="none" shape-rendering="auto"/>
<line x1="868.5" y1="467.5" x2="932.5" y2="467.5" stroke-width="1"/>
<path d="M871,464.5 L868,467.5 L871,470.5" fill="none"/>
<text x="861" y="470.79999999999995" text-anchor="middle" font-size="9">fil</text>
<line x1="832.5" y1="483.5" x2="932.5" y2="483.5" stroke-width="1"/>
<polyline points="774.5,521.5 772.5,521.5 772.5,547.5 932.5,547.5"/>
<line x1="844.5" y1="370.5" x2="844.5" y2="439.5" stroke-width="1"/>
<line x1="844.5" y1="447.5" x2="844.5" y2="515.5" stroke-width="1"/>
<line x1="844.5" y1="515.5" x2="932.5" y2="515.5" stroke-width="1"/>
<circle cx="794.5" cy="491.5" r="40" fill="none" shape-rendering="auto"/>
<circle cx="794.5" cy="455.5" r="2.3" fill="#fff" shape-rendering="auto"/>
<circle cx="770.5" cy="463.5" r="2.3" fill="#fff" shape-rendering="auto"/>
<circle cx="818.5" cy="463.5" r="2.5" fill="#000" shape-rendering="auto"/>
<circle cx="758.5" cy="483.5" r="2.3" fill="#fff" shape-rendering="auto"/>
<circle cx="830.5" cy="483.5" r="2.3" fill="#fff" shape-rendering="auto"/>
<circle cx="758.5" cy="503.5" r="2.5" fill="#000" shape-rendering="auto"/>
<circle cx="830.5" cy="503.5" r="2.5" fill="#000" shape-rendering="auto"/>
<circle cx="774.5" cy="519.5" r="2.3" fill="#fff" shape-rendering="auto"/>
<circle cx="814.5" cy="519.5" r="2.5" fill="#000" shape-rendering="auto"/>
<text x="799.6" y="544.1" text-anchor="middle" font-size="9">EZ80</text>
<polyline points="794.5,457.5 794.5,470.5 814.5,470.5 814.5,511.5 804.5,511.5 794.5,502.5 784.5,511.5 770.5,511.5 770.5,465.5"/>
<rect x="778" y="475" width="13" height="5" fill="#000" stroke="none"/>
<rect x="798" y="475" width="13" height="5" fill="#000" stroke="none"/>
<polyline points="811.5,479.5 828.5,479.5 830.5,481.5"/>
<polyline points="760.5,483.5 762.5,483.5 762.5,495.5 781.5,495.5 781.5,492.5 806.5,492.5 806.5,495.5"/>
<polyline points="774.5,517.5 774.5,479.5 778.5,479.5"/>
<rect x="926" y="426" width="13" height="3" fill="#000" stroke="none"/>
<line x1="932.5" y1="427.5" x2="932.5" y2="443.5" stroke-width="1"/>
<circle cx="932.5" cy="443.5" r="1.8" fill="#000" stroke="none" shape-rendering="auto"/>
<path d="M932.5,443.4 A5,4.0 0 0 1 932.5,451.40 A5,4.0 0 0 1 932.5,459.40 A5,4.0 0 0 1 932.5,467.40" fill="none" shape-rendering="auto"/>
<circle cx="932.5" cy="467.5" r="1.8" fill="#000" stroke="none" shape-rendering="auto"/>
<path d="M932.5,483.1 A5,4.024999999999999 0 0 1 932.5,491.15 A5,4.024999999999999 0 0 1 932.5,499.20 A5,4.024999999999999 0 0 1 932.5,507.25 A5,4.024999999999999 0 0 1 932.5,515.30 A5,4.024999999999999 0 0 1 932.5,523.35 A5,4.024999999999999 0 0 1 932.5,531.40 A5,4.024999999999999 0 0 1 932.5,539.45 A5,4.024999999999999 0 0 1 932.5,547.50" fill="none" shape-rendering="auto"/>
<circle cx="932.5" cy="483.5" r="1.8" fill="#000" stroke="none" shape-rendering="auto"/>
<circle cx="932.5" cy="515.5" r="1.8" fill="#000" stroke="none" shape-rendering="auto"/>
<circle cx="932.5" cy="547.5" r="1.8" fill="#000" stroke="none" shape-rendering="auto"/>
<rect x="944.5" y="443.5" width="8" height="104"/>
<line x1="948.5" y1="443.5" x2="948.5" y2="547.5" stroke-width="1"/>
<path d="M964.1,459.5 A5,4.0 0 0 0 964.1,467.50 A5,4.0 0 0 0 964.1,475.50 A5,4.0 0 0 0 964.1,483.50 A5,4.0 0 0 0 964.1,491.50 A5,4.0 0 0 0 964.1,499.50 A5,4.0 0 0 0 964.1,507.50 A5,4.0 0 0 0 964.1,515.50 A5,4.0 0 0 0 964.1,523.50 A5,4.0 0 0 0 964.1,531.50 A5,4.0 0 0 0 964.1,539.50 A5,4.0 0 0 0 964.1,547.50" fill="none" shape-rendering="auto"/>
<circle cx="964.5" cy="459.5" r="1.8" fill="#000" stroke="none" shape-rendering="auto"/>
<circle cx="964.5" cy="475.5" r="1.8" fill="#000" stroke="none" shape-rendering="auto"/>
<circle cx="964.5" cy="499.5" r="1.8" fill="#000" stroke="none" shape-rendering="auto"/>
<circle cx="964.5" cy="515.5" r="1.8" fill="#000" stroke="none" shape-rendering="auto"/>
<circle cx="964.5" cy="547.5" r="1.8" fill="#000" stroke="none" shape-rendering="auto"/>
<polyline points="964.5,459.5 988.5,459.5 988.5,473.5"/>
<circle cx="988.5" cy="475.5" r="2.3" fill="#fff" shape-rendering="auto"/>
<polyline points="964.5,475.5 972.5,475.5 972.5,487.5 978.5,487.5"/>
<circle cx="980.5" cy="487.5" r="2.3" fill="#fff" shape-rendering="auto"/>
<line x1="964.5" y1="499.5" x2="974.5" y2="499.5" stroke-width="1"/>
<circle cx="976.5" cy="499.5" r="2.3" fill="#fff" shape-rendering="auto"/>
<polyline points="964.5,515.5 988.5,515.5 988.5,509.5"/>
<circle cx="988.5" cy="507.5" r="2.3" fill="#fff" shape-rendering="auto"/>
<path d="M988.8,505 L989.5,499.5 L993,497 L999,496.5 L1002.5,493" fill="none" shape-rendering="auto"/>
<circle cx="1004.5" cy="491.5" r="2.3" fill="#fff" shape-rendering="auto"/>
<polyline points="1006.5,491.5 1028.5,491.5 1028.5,508.5"/>
<circle cx="1028.5" cy="511.5" r="2.3" fill="#fff" shape-rendering="auto"/>
<path d="M1033.2,511.5 L1028.8,523" fill="none" shape-rendering="auto"/>
<circle cx="1028.5" cy="527.5" r="2.3" fill="#fff" shape-rendering="auto"/>
<polyline points="1028.5,529.5 1028.5,547.5 1020.5,547.5"/>
<circle cx="1018.5" cy="547.5" r="2.3" fill="#fff" shape-rendering="auto"/>
<line x1="964.5" y1="547.5" x2="984.5" y2="547.5" stroke-width="1"/>
<circle cx="986.5" cy="547.5" r="2.3" fill="#fff" shape-rendering="auto"/>
<rect x="880.5" y="672.5" width="176" height="64" fill="none"/>
<line x1="880.5" y1="704.5" x2="1056.5" y2="704.5" stroke-width="1"/>
<text class="serif" x="896" y="694.7" font-size="21">Visseaux RB22</text>
<text class="serif" x="898.5" y="727.8" font-size="15">R.Barthel</text>
<circle cx="202.5" cy="87.5" r="2.2" fill="#fff" shape-rendering="auto"/>
<circle cx="178.5" cy="95.5" r="2.2" fill="#fff" shape-rendering="auto"/>
<circle cx="226.5" cy="95.5" r="2.2" fill="#fff" shape-rendering="auto"/>
<circle cx="166.5" cy="115.5" r="2.2" fill="#fff" shape-rendering="auto"/>
<circle cx="238.5" cy="115.5" r="2.2" fill="#fff" shape-rendering="auto"/>
<circle cx="166.5" cy="135.5" r="2.2" fill="#fff" shape-rendering="auto"/>
<circle cx="238.5" cy="135.5" r="2.2" fill="#fff" shape-rendering="auto"/>
<circle cx="178.5" cy="151.5" r="2.2" fill="#fff" shape-rendering="auto"/>
<circle cx="226.5" cy="151.5" r="2.2" fill="#fff" shape-rendering="auto"/>
<polyline points="202.5,89.5 202.5,90.5 220.5,90.5"/>
<line x1="220.5" y1="90.5" x2="220.5" y2="119.5" stroke-dasharray="4 2"/>
<polyline points="224.5,95.5 192.5,95.5 192.5,99.5"/>
<rect x="186" y="99" width="13" height="3" fill="#000" stroke="none"/>
<line x1="186.5" y1="105.5" x2="199.5" y2="105.5" stroke-dasharray="4 2"/>
<line x1="186.5" y1="109.5" x2="199.5" y2="109.5" stroke-dasharray="4 2"/>
<line x1="186.5" y1="113.5" x2="199.5" y2="113.5" stroke-dasharray="4 2"/>
<line x1="186.5" y1="117.5" x2="199.5" y2="117.5" stroke-dasharray="4 2"/>
<line x1="186.5" y1="121.5" x2="199.5" y2="121.5" stroke-dasharray="4 2"/>
<polyline points="168.5,115.5 168.5,105.5 186.5,105.5"/>
<polyline points="168.5,115.5 168.5,129.5 179.5,129.5"/>
<circle cx="168.5" cy="115.5" r="1.5" fill="#000" stroke="none" shape-rendering="auto"/>
<polyline points="180.5,109.5 186.5,109.5"/>
<polyline points="180.5,117.5 186.5,117.5"/>
<circle cx="180.5" cy="117.5" r="1.3" fill="#000" stroke="none" shape-rendering="auto"/>
<polyline points="182.5,135.5 182.5,121.5 186.5,121.5"/>
<polyline points="168.5,135.5 182.5,135.5"/>
<polyline points="199.5,113.5 202.5,113.5 202.5,107.5 230.5,107.5 230.5,113.5 236.5,115.5"/>
<rect x="206" y="111" width="13" height="5" fill="#000" stroke="none"/>
<polyline points="218.5,113.5 226.5,113.5 226.5,131.5 236.5,131.5 236.5,133.5"/>
<line x1="206.5" y1="119.5" x2="218.5" y2="119.5" stroke-dasharray="4 2"/>
<polyline points="218.5,119.5 221.5,119.5 221.5,143.5 212.5,143.5 202.5,133.5 192.5,143.5 182.5,143.5"/>
<polyline points="190.5,130.5 190.5,127.5 214.5,127.5 214.5,131.5"/>
<line x1="178.5" y1="97.5" x2="178.5" y2="149.5" stroke-width="1"/>
<line x1="180.5" y1="133.5" x2="180.5" y2="149.5" stroke-dasharray="3 2"/>
<circle cx="434.5" cy="87.5" r="2.2" fill="#fff" shape-rendering="auto"/>
<circle cx="406.5" cy="101.5" r="2.2" fill="#fff" shape-rendering="auto"/>
<circle cx="462.5" cy="101.5" r="2.2" fill="#fff" shape-rendering="auto"/>
<circle cx="398.5" cy="123.5" r="2.2" fill="#fff" shape-rendering="auto"/>
<circle cx="470.5" cy="123.5" r="2.2" fill="#fff" shape-rendering="auto"/>
<circle cx="406.5" cy="145.5" r="2.2" fill="#fff" shape-rendering="auto"/>
<circle cx="462.5" cy="145.5" r="2.2" fill="#fff" shape-rendering="auto"/>
<polyline points="434.5,89.5 434.5,95.5 454.5,95.5"/>
<line x1="454.5" y1="95.5" x2="454.5" y2="141.5" stroke-dasharray="4 2"/>
<polyline points="408.5,101.5 410.5,101.5 410.5,141.5 425.5,141.5 434.5,131.5 443.5,141.5 454.5,141.5"/>
<rect x="425" y="105" width="19" height="5" fill="#000" stroke="none"/>
<polyline points="443.5,107.5 462.5,107.5 462.5,103.5"/>
<polyline points="398.5,121.5 398.5,113.5 425.5,113.5"/>
<line x1="425.5" y1="113.5" x2="443.5" y2="113.5" stroke-dasharray="4 2"/>
<line x1="425.5" y1="117.5" x2="443.5" y2="117.5" stroke-dasharray="4 2"/>
<polyline points="443.5,117.5 470.5,117.5 470.5,121.5"/>
<line x1="430.5" y1="121.5" x2="443.5" y2="121.5" stroke-dasharray="4 2"/>
<polyline points="430.5,121.5 418.5,121.5 418.5,145.5 408.5,145.5"/>
<polyline points="425.5,127.5 425.5,125.5 443.5,125.5 443.5,127.5"/>
<polyline points="443.5,125.5 462.5,125.5 462.5,143.5"/>
<circle cx="658.5" cy="87.5" r="2.2" fill="#fff" shape-rendering="auto"/>
<circle cx="630.5" cy="101.5" r="2.2" fill="#fff" shape-rendering="auto"/>
<circle cx="686.5" cy="101.5" r="2.2" fill="#fff" shape-rendering="auto"/>
<circle cx="622.5" cy="123.5" r="2.2" fill="#fff" shape-rendering="auto"/>
<circle cx="694.5" cy="123.5" r="2.2" fill="#fff" shape-rendering="auto"/>
<circle cx="630.5" cy="145.5" r="2.2" fill="#fff" shape-rendering="auto"/>
<circle cx="686.5" cy="145.5" r="2.2" fill="#fff" shape-rendering="auto"/>
<polyline points="658.5,89.5 658.5,92.5 678.5,92.5"/>
<line x1="678.5" y1="92.5" x2="678.5" y2="141.5" stroke-dasharray="4 2"/>
<polyline points="632.5,101.5 634.5,101.5 634.5,141.5 648.5,141.5 658.5,131.5 667.5,141.5 678.5,141.5"/>
<rect x="645" y="105" width="15" height="5" fill="#000" stroke="none"/>
<polyline points="652.5,105.5 652.5,101.5 668.5,101.5"/>
<rect x="666" y="105" width="9" height="5" fill="#000" stroke="none"/>
<polyline points="670.5,105.5 670.5,95.5 683.5,95.5 683.5,99.5"/>
<rect x="666" y="115" width="9" height="5" fill="#000" stroke="none"/>
<polyline points="675.5,117.5 694.5,117.5 694.5,121.5"/>
<polyline points="672.5,101.5 681.5,101.5 681.5,125.5 686.5,125.5 686.5,143.5"/>
<line x1="642.5" y1="117.5" x2="660.5" y2="117.5" stroke-dasharray="4 2"/>
<polyline points="642.5,117.5 642.5,145.5 632.5,145.5"/>
<polyline points="624.5,123.5 628.5,123.5 628.5,126.5 632.5,126.5"/>
<line x1="632.5" y1="126.5" x2="649.5" y2="126.5" stroke-dasharray="4 2"/>
<polyline points="649.5,127.5 649.5,125.5 667.5,125.5 667.5,127.5"/>
<circle cx="882.5" cy="87.5" r="2.2" fill="#fff" shape-rendering="auto"/>
<circle cx="858.5" cy="95.5" r="2.2" fill="#fff" shape-rendering="auto"/>
<circle cx="906.5" cy="95.5" r="2.5" fill="#000" shape-rendering="auto"/>
<circle cx="846.5" cy="115.5" r="2.2" fill="#fff" shape-rendering="auto"/>
<circle cx="918.5" cy="115.5" r="2.2" fill="#fff" shape-rendering="auto"/>
<circle cx="846.5" cy="135.5" r="2.2" fill="#fff" shape-rendering="auto"/>
<circle cx="918.5" cy="135.5" r="2.5" fill="#000" shape-rendering="auto"/>
<circle cx="858.5" cy="151.5" r="2.5" fill="#000" shape-rendering="auto"/>
<circle cx="906.5" cy="151.5" r="2.2" fill="#fff" shape-rendering="auto"/>
<polyline points="882.5,89.5 882.5,99.5 898.5,99.5 898.5,143.5"/>
<polyline points="858.5,97.5 858.5,143.5 872.5,143.5 882.5,133.5 891.5,143.5 898.5,143.5"/>
<rect x="869" y="107" width="26" height="5" fill="#000" stroke="none"/>
<polyline points="894.5,111.5 910.5,111.5 910.5,115.5 916.5,115.5"/>
<polyline points="848.5,115.5 869.5,115.5"/>
<circle cx="862.5" cy="115.5" r="1.6" fill="#000" stroke="none" shape-rendering="auto"/>
<line x1="869.5" y1="115.5" x2="894.5" y2="115.5" stroke-dasharray="4 2"/>
<polyline points="862.5,115.5 862.5,131.5 869.5,131.5 869.5,127.5 894.5,127.5 894.5,131.5"/>
<line x1="869.5" y1="119.5" x2="894.5" y2="119.5" stroke-dasharray="4 2"/>
<polyline points="894.5,119.5 906.5,119.5 906.5,149.5"/>
<line x1="869.5" y1="123.5" x2="894.5" y2="123.5" stroke-dasharray="4 2"/>
<polyline points="846.5,133.5 846.5,123.5 869.5,123.5"/>
<line x1="128" y1="18.5" x2="158" y2="18.5" stroke="#666" stroke-dasharray="2 1.5"/>
<line x1="129" y1="20" x2="158" y2="20" stroke="#999" stroke-width="1" stroke-dasharray="1 2"/>
<line x1="128" y1="21.5" x2="158" y2="21.5" stroke="#000" stroke-dasharray="1 2.5"/>
<line x1="169" y1="18.5" x2="175" y2="18.5" stroke="#666" stroke-dasharray="2 1.5"/>
<line x1="170" y1="20" x2="175" y2="20" stroke="#999" stroke-width="1" stroke-dasharray="1 2"/>
<line x1="169" y1="21.5" x2="175" y2="21.5" stroke="#000" stroke-dasharray="1 2.5"/>
<line x1="193" y1="18.5" x2="216" y2="18.5" stroke="#666" stroke-dasharray="2 1.5"/>
<line x1="194" y1="20" x2="216" y2="20" stroke="#999" stroke-width="1" stroke-dasharray="1 2"/>
<line x1="193" y1="21.5" x2="216" y2="21.5" stroke="#000" stroke-dasharray="1 2.5"/>
<line x1="224" y1="18.5" x2="247" y2="18.5" stroke="#666" stroke-dasharray="2 1.5"/>
<line x1="225" y1="20" x2="247" y2="20" stroke="#999" stroke-width="1" stroke-dasharray="1 2"/>
<line x1="224" y1="21.5" x2="247" y2="21.5" stroke="#000" stroke-dasharray="1 2.5"/>
</g>
</svg>
</body></html>
